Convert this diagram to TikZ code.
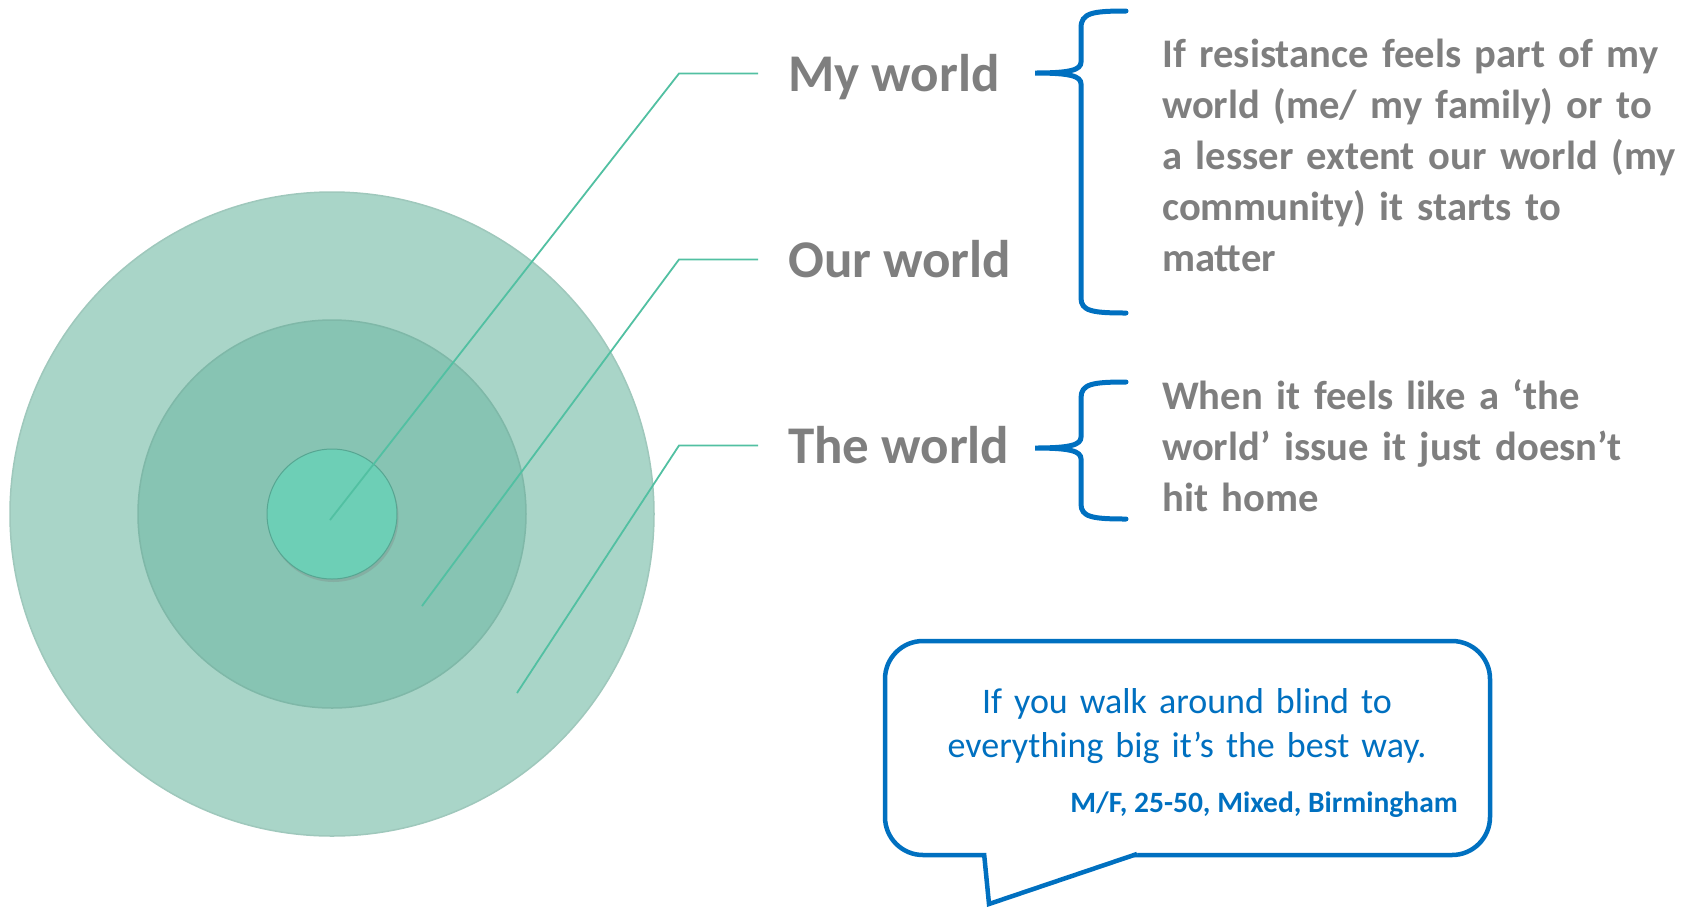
\documentclass[tikz,border=0pt]{standalone}
\usepackage{fontspec}
\setmainfont{Carlito}
\usetikzlibrary{shadows}

\definecolor{txtgray}{HTML}{7F7F7F}
\definecolor{quoteblue}{HTML}{0070C0}
\definecolor{ringouter}{HTML}{A9D5C8}
\definecolor{ringmid}{HTML}{87C4B3}
\definecolor{ringin}{HTML}{6DCFB6}
\definecolor{leadcol}{HTML}{52C0A2}

\begin{document}
\begin{tikzpicture}[x=1pt, y=-1pt,
  ring/.style={circle, inner sep=0pt},
  worldlabel/.style={anchor=base west, inner xsep=30pt, inner ysep=0pt,
    text height=35pt, text depth=0pt,
    font=\fontsize{53}{64}\selectfont\bfseries, text=txtgray},
  leader/.style={leadcol, line width=1.8pt},
  bracket/.style={quoteblue, line width=5pt, line cap=round},
  sidenote/.style={anchor=base west, inner sep=0pt, text width=540pt, align=left,
    font=\fontsize{40.6}{51}\selectfont\bfseries, text=txtgray},
  bubble/.style={draw=quoteblue, line width=4.5pt, fill=white},
]
  \useasboundingbox (0,0) rectangle (1698,906);

  % the three worlds, one inside the other
  \node[ring, minimum size=644pt, fill=ringouter, draw=ringouter!94!black, line width=1.5pt] (outer) at (332,514) {};
  \node[ring, minimum size=388pt, fill=ringmid, draw=ringmid!94!black, line width=1.5pt] (middle) at (332,514) {};
  \node[ring, minimum size=130pt, fill=ringin, draw=ringin!80!black, line width=1pt,
    drop shadow={opacity=0.3, shadow xshift=1.5pt, shadow yshift=-3pt}] (inner) at (332,514) {};

  % labels and leader lines
  \node[worldlabel] (myw) at (758,91) {My world};
  \node[worldlabel] (ourw) at (758,277) {Our world};
  \node[worldlabel] (thew) at (758,463) {The world};

  \coordinate (myend) at (330,520);
  \coordinate (ourend) at (422,606);
  \coordinate (theend) at (517,693);

  \draw[leader] (myw.west) -- ++(-79,0) -- (myend);
  \draw[leader] (ourw.west) -- ++(-79,0) -- (ourend);
  \draw[leader] (thew.west) -- ++(-79,0) -- (theend);

  % braces
  \draw[bracket] (1126,11) .. controls (1092,11) and (1081,13) .. (1081,28) -- (1081,62)
    .. controls (1081,70) and (1070,73) .. (1035,73) .. controls (1070,73) and (1081,76) .. (1081,84)
    -- (1081,298) .. controls (1081,311) and (1092,313) .. (1126,313);
  \draw[bracket] (1126,382) .. controls (1092,382) and (1081,384) .. (1081,398) -- (1081,437)
    .. controls (1081,445) and (1070,448) .. (1035,448) .. controls (1070,448) and (1081,451) .. (1081,459)
    -- (1081,504) .. controls (1081,517) and (1092,519) .. (1126,519);

  \node[sidenote] (mattertxt) at (1162,67) {If resistance feels part of my\\ world (me/ my family) or to\\ a lesser extent our world (my\\ community) it starts to\\ matter};
  \node[sidenote] (hometxt) at (1162,409) {When it feels like a ‘the\\ world’ issue it just doesn’t\\ hit home};

  % speech bubble
  \node[bubble, rounded corners=38pt, minimum width=605pt, minimum height=214pt] (quotebox) at (1187.5,748) {};
  \fill[white] (984,850) -- (1137,850) -- (1137,855) -- (989,904) -- (984,855) -- cycle;
  \draw[quoteblue, line width=4.5pt] (984,853) -- (989,904) -- (1137,854);

  \node[font=\fontsize{36}{44}\selectfont, text=quoteblue, text width=600pt, align=center,
    anchor=base, inner sep=0pt] (quotetxt) at (1187,713) {If you walk around blind to\\ everything big it’s the best way.};
  \node[font=\fontsize{29.5}{35}\selectfont\bfseries, text=quoteblue, anchor=base east,
    inner sep=0pt] (who) at (1458,812) {M/F, 25-50, Mixed, Birmingham};
\end{tikzpicture}
\end{document}
